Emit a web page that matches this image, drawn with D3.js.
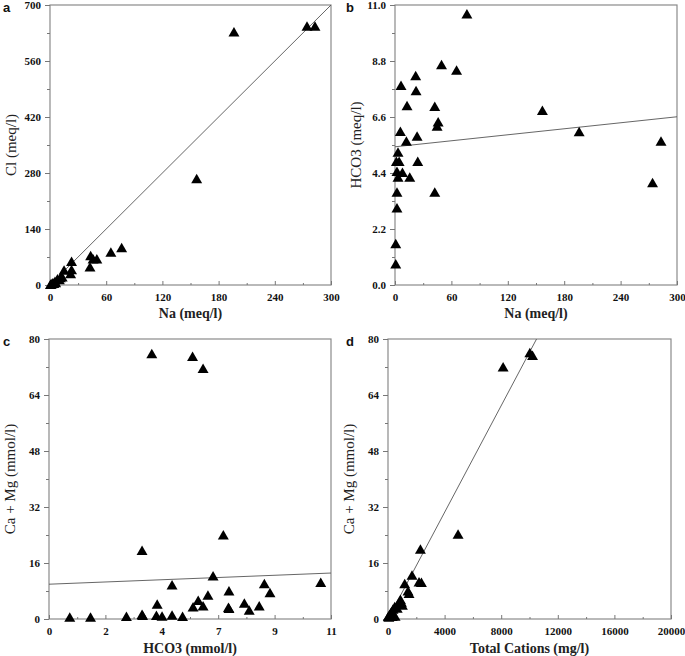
<!DOCTYPE html>
<html><head><meta charset="utf-8">
<script src="https://cdn.jsdelivr.net/npm/d3@7"></script>
<style>body{margin:0;background:#fff}</style>
</head><body>
<script>
// ---- Panel a: Na vs Cl (meq/l)
const aNa = [196.4,274.4,282.9,156.6,76.5,65,43.4,46,50,42.7,23,15,23,22,13,8,5.3,3,1,2,4,6,10,0.5,11];
const aCl = [631.8,645.8,646,265,92,81,72.5,64,64,44,58,36,37,27,19,14,8,4,1,2,3,5,12,0.5,17];
const aLine = [0, 2.3333]; // intercept, slope
// ---- Panel b: Na vs HCO3 (meq/l)
const bNa = [76.5,49.5,65.5,22,6.4,22.4,12.8,42.3,45.9,44.8,156.8,195.9,283,274,5.7,23.5,12.1,3.2,1.5,4.4,24.2,2.1,7.9,3.2,15.7,2.1,42.3,2.1,0.8,0.8];
const bHCO3 = [10.63,8.64,8.42,8.21,7.82,7.62,7.03,7.0,6.39,6.22,6.84,6.01,5.63,4.0,6.02,5.83,5.63,5.2,4.84,4.84,4.84,4.45,4.41,4.22,4.22,3.63,3.63,3.01,1.61,0.81];
const bLine = [5.43, 0.00393];
// ---- Panel c: HCO3 (mmol/l) vs Ca+Mg (mmol/l)
const cHCO3 = [4.01,5.6,6.01,6.8,3.63,6.4,4.8,8.4,10.6,8.62,7.02,6.2,5.82,4.22,7.62,5.62,6.01,7.0,7.02,8.2,7.81,3.63,4.19,4.41,4.8,5.21,3.02,1.62,0.81,3.65];
const cCaMg = [75.7,74.9,71.5,23.9,19.5,12.2,9.6,10.0,10.3,7.4,7.9,6.7,5.2,4.1,4.4,3.3,3.6,3.2,2.9,3.6,2.4,1.2,0.9,0.7,1.0,0.6,0.6,0.4,0.4,0.9];
const cLine = [9.94, 0.29];
// ---- Panel d: Total Cations (mg/l) vs Ca+Mg (mmol/l)
const dTC = [10025,10215,8136,4952,2292,1698,1181,2193,2363,1415,1486,877,948,1019,708,474,354,240,120,20,60,100,180,300,400,500,250,650,820];
const dCaMg = [76,75.2,71.9,24.1,19.8,12.4,10.0,10.5,10.3,7.9,7.2,5.5,4.7,3.8,4.1,3.4,2.7,1.9,1.2,0.6,0.4,0.8,0.9,0.6,1.0,0.7,1.4,3.0,4.3];
const dLine = [0, 0.00762];

// ---- tick labels
const aXTicks = [0,60,120,180,240,300], aYTicks = [0,140,280,420,560,700];
const bXTicks = [0,60,120,180,240,300], bYTicks = [0,2.2,4.4,6.6,8.8,11];
const bYLabels = ["0.0","2.2","4.4","6.6","8.8","11.0"];
const cXTicks = [0,2.2,4.4,6.6,8.8,11], cXLabels = ["0","2","4","7","9","11"];
const cYTicks = [0,16,32,48,64,80];
const dXTicks = [0,4000,8000,12000,16000,20000], dYTicks = [0,16,32,48,64,80];

const W = 685, H = 656;
const svg = d3.select("body").append("svg").attr("width", W).attr("height", H);
const serif = "'Liberation Serif','DejaVu Serif',serif";

function panel(o) {
  const g = svg.append("g");
  const x = d3.scaleLinear().domain(o.xd).range([o.x0, o.x1]);
  const y = d3.scaleLinear().domain(o.yd).range([o.y1, o.y0]);
  // frame
  g.append("rect").attr("x", o.x0).attr("y", o.y0).attr("width", o.x1 - o.x0).attr("height", o.y1 - o.y0)
    .attr("fill", "none").attr("stroke", "#8a8a8a").attr("stroke-width", 1.2);
  // minor ticks
  const xm = d3.range(o.xt.length - 1).map(i => (o.xt[i] + o.xt[i+1]) / 2);
  const ym = d3.range(o.yt.length - 1).map(i => (o.yt[i] + o.yt[i+1]) / 2);
  g.append("g").attr("transform", `translate(0,${o.y1})`)
    .call(d3.axisBottom(x).tickValues(xm).tickSize(-2).tickFormat(""))
    .call(s => s.select(".domain").remove());
  g.append("g").attr("transform", `translate(${o.x0},0)`)
    .call(d3.axisLeft(y).tickValues(ym).tickSize(3).tickFormat(""))
    .call(s => s.select(".domain").remove());
  // major ticks
  const xa = g.append("g").attr("transform", `translate(0,${o.y1})`)
    .call(d3.axisBottom(x).tickValues(o.xt).tickSizeInner(-4).tickSizeOuter(0).tickPadding(8)
      .tickFormat((d, i) => o.xl ? o.xl[i] : d));
  xa.select(".domain").remove();
  const ya = g.append("g").attr("transform", `translate(${o.x0},0)`)
    .call(d3.axisLeft(y).tickValues(o.yt).tickSizeInner(5).tickSizeOuter(0).tickPadding(4)
      .tickFormat((d, i) => o.yl ? o.yl[i] : d));
  ya.select(".domain").remove();
  g.selectAll(".tick line").attr("stroke", "#777");
  g.selectAll(".tick text").attr("font-family", serif).attr("font-weight", "bold")
    .attr("font-size", 11).attr("fill", "#111");
  // regression line
  const [b0, b1] = o.line;
  const lx0 = o.xd[0], lx1 = Math.min(o.xd[1], (o.yd[1] - b0) / b1);
  g.append("line").attr("x1", x(lx0)).attr("y1", y(b0 + b1 * lx0))
    .attr("x2", x(lx1)).attr("y2", y(b0 + b1 * lx1))
    .attr("stroke", "#555").attr("stroke-width", 0.9);
  // points
  const tri = d3.symbol().type(d3.symbolTriangle).size(52);
  g.selectAll("path.pt").data(o.xs.map((v, i) => [v, o.ys[i]])).join("path")
    .attr("class", "pt").attr("d", tri)
    .attr("transform", d => `translate(${x(d[0])},${y(d[1]) + 1})`).attr("fill", "#000");
  // titles
  g.append("text").attr("x", (o.x0 + o.x1) / 2).attr("y", o.y1 + o.tdy).attr("text-anchor", "middle")
    .attr("font-family", serif).attr("font-weight", "bold").attr("font-size", 14).attr("fill", "#222").text(o.xtitle);
  g.append("text").attr("transform", `translate(${o.x0 - 34},${(o.y0 + o.y1) / 2}) rotate(-90)`)
    .attr("text-anchor", "middle").attr("font-family", serif).attr("font-size", 15).attr("fill", "#222").text(o.ytitle);
  g.append("text").attr("x", o.lx).attr("y", o.y0 + 7).attr("font-family", "'Liberation Sans',Arial,sans-serif")
    .attr("font-weight", "bold").attr("font-size", 13).attr("fill", "#111").text(o.letter);
}

panel({x0: 50, x1: 331, y0: 5, y1: 285, xd: [0, 300], yd: [0, 700], xt: aXTicks, yt: aYTicks, tdy: 33,
  xs: aNa, ys: aCl, line: aLine, xtitle: "Na (meq/l)", ytitle: "Cl (meq/l)", letter: "a", lx: 3});
panel({x0: 395, x1: 677, y0: 5, y1: 285, xd: [0, 300], yd: [0, 11], xt: bXTicks, yt: bYTicks, yl: bYLabels, tdy: 33,
  xs: bNa, ys: bHCO3, line: bLine, xtitle: "Na (meq/l)", ytitle: "HCO3 (meq/l)", letter: "b", lx: 346});
panel({x0: 49, x1: 331, y0: 339, y1: 619, xd: [0, 11], yd: [0, 80], xt: cXTicks, xl: cXLabels, yt: cYTicks, tdy: 34,
  xs: cHCO3, ys: cCaMg, line: cLine, xtitle: "HCO3 (mmol/l)", ytitle: "Ca + Mg (mmol/l)", letter: "c", lx: 3});
panel({x0: 388, x1: 671, y0: 339, y1: 619, xd: [0, 20000], yd: [0, 80], xt: dXTicks, yt: dYTicks, tdy: 34,
  xs: dTC, ys: dCaMg, line: dLine, xtitle: "Total Cations (mg/l)", ytitle: "Ca + Mg (mmol/l)", letter: "d", lx: 346});
</script>
</body></html>
